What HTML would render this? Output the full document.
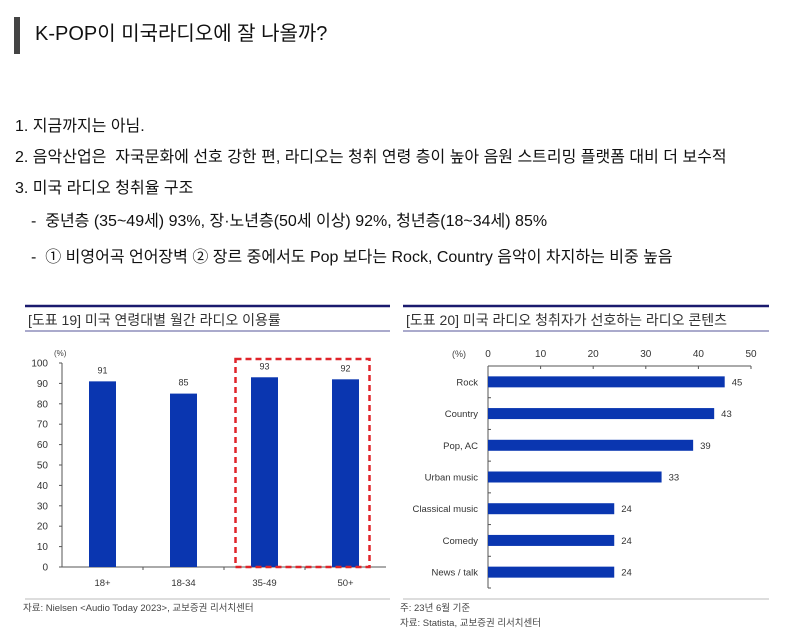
<!DOCTYPE html>
<html><head><meta charset="utf-8"><style>
body{margin:0;width:800px;height:641px;background:#fff;overflow:hidden;position:relative;font-family:"Liberation Sans","Noto Sans CJK KR",sans-serif;color:#111}
.t{position:absolute;white-space:nowrap;font-size:16px;line-height:20px}
svg{position:absolute;left:0;top:0}
</style></head><body>
<div style="position:absolute;left:14px;top:17px;width:6px;height:37px;background:#444"></div>
<div class="t" style="left:35px;top:22px;font-size:20px;line-height:24px">K-POP이 미국라디오에 잘 나올까?</div>
<div class="t" style="left:15px;top:117px">1. 지금까지는 아님.</div>
<div class="t" style="left:15px;top:148px">2. 음악산업은 &nbsp;자국문화에 선호 강한 편, 라디오는 청취 연령 층이 높아 음원 스트리밍 플랫폼 대비 더 보수적</div>
<div class="t" style="left:15px;top:179px">3. 미국 라디오 청취율 구조</div>
<div class="t" style="left:31px;top:212px">- &nbsp;중년층 (35~49세) 93%, 장·노년층(50세 이상) 92%, 청년층(18~34세) 85%</div>
<div class="t" style="left:31px;top:248px">- &nbsp;① 비영어곡 언어장벽 ② 장르 중에서도 Pop 보다는 Rock, Country 음악이 차지하는 비중 높음</div>
<svg id="c" width="800" height="641" font-family="Liberation Sans, Noto Sans CJK KR, sans-serif"></svg>
<script>
const ageCats=["18+","18-34","35-49","50+"];
const ageVals=[91,85,93,92];
const yTicks=[0,10,20,30,40,50,60,70,80,90,100];
const genreCats=["Rock","Country","Pop, AC","Urban music","Classical music","Comedy","News / talk"];
const genreVals=[45,43,39,33,24,24,24];
const xTicks=[0,10,20,30,40,50];
const S=document.getElementById('c');const NS="http://www.w3.org/2000/svg";
function el(t,a,txt,name){const e=document.createElementNS(NS,t);for(const k in a)e.setAttribute(k,a[k]);if(txt!==undefined)e.textContent=txt;


S.appendChild(e);return e;}
el('line',{x1:25,y1:306,x2:390,y2:306,stroke:'#1a1a6e','stroke-width':2.5},undefined,'chart19-top-rule');
el('line',{x1:25,y1:331,x2:390,y2:331,stroke:'#55559a','stroke-width':1},undefined,'chart19-title-rule');
el('text',{x:28,y:325,'font-size':14,fill:'#333'},'[도표 19] 미국 연령대별 월간 라디오 이용률','chart19-title');
el('line',{x1:403,y1:306,x2:769,y2:306,stroke:'#1a1a6e','stroke-width':2.5},undefined,'chart20-top-rule');
el('line',{x1:403,y1:331,x2:769,y2:331,stroke:'#55559a','stroke-width':1},undefined,'chart20-title-rule');
el('text',{x:406,y:325,'font-size':14,fill:'#333'},'[도표 20] 미국 라디오 청취자가 선호하는 라디오 콘텐츠','chart20-title');
const y0=567,yTop=363,axL=62,axR=386;
const yS=v=>y0-(v/100)*(y0-yTop);
el('line',{x1:axL,y1:yTop,x2:axL,y2:y0,stroke:'#555'},undefined,'y-axis');
el('line',{x1:axL,y1:y0,x2:axR,y2:y0,stroke:'#555'},undefined,'x-axis');
el('text',{x:axL-8,y:356,'font-size':8,fill:'#444'},'(%)','y-axis-unit');
yTicks.forEach(v=>{el('line',{x1:axL-3,y1:yS(v),x2:axL,y2:yS(v),stroke:'#555'},undefined,'y-tick');
el('text',{x:axL-14,y:yS(v)+3.5,'font-size':10,'text-anchor':'end',fill:'#333'},v,'y-tick-label');});
const bw=(axR-axL)/ageCats.length;
ageCats.forEach((c,i)=>{const cx=axL+bw*(i+0.5);
if(i>0)el('line',{x1:axL+bw*i,y1:y0,x2:axL+bw*i,y2:y0+3,stroke:'#555'},undefined,'x-tick');
el('rect',{x:cx-13.5,y:yS(ageVals[i]),width:27,height:y0-yS(ageVals[i]),fill:'#0a36b0'},undefined,'bar-'+c);
el('text',{x:cx,y:yS(ageVals[i])-8,'font-size':9,'text-anchor':'middle',fill:'#333'},ageVals[i],'bar-value');
el('text',{x:cx,y:586,'font-size':9.5,'text-anchor':'middle',fill:'#333'},c,'x-tick-label');});
el('rect',{x:axL+bw*2.5-29,y:359,width:134,height:y0-359,fill:'none',stroke:'#e0242a','stroke-width':2.5,'stroke-dasharray':'6,4'},undefined,'highlight-box');
el('line',{x1:25,y1:599,x2:390,y2:599,stroke:'#bbb'},undefined,'chart19-source-rule');
el('text',{x:23,y:611,'font-size':9.5,fill:'#444'},'자료: Nielsen <Audio Today 2023>, 교보증권 리서치센터','chart19-source');
const x0=488,x50=751,gTop=366,gBot=588;
const xS=v=>x0+(v/50)*(x50-x0);
el('line',{x1:x0,y1:gTop,x2:x50,y2:gTop,stroke:'#555'},undefined,'x-axis');
el('line',{x1:x0,y1:gTop,x2:x0,y2:gBot,stroke:'#555'},undefined,'y-axis');
el('text',{x:452,y:357,'font-size':9,fill:'#444'},'(%)','x-axis-unit');
xTicks.forEach(v=>{el('line',{x1:xS(v),y1:gTop,x2:xS(v),y2:gTop+3,stroke:'#555'},undefined,'x-tick');
el('text',{x:xS(v),y:357,'font-size':10,'text-anchor':'middle',fill:'#333'},v,'x-tick-label');});
const bh=(gBot-gTop)/genreCats.length;
genreCats.forEach((c,i)=>{const cy=gTop+bh*(i+0.5);
el('line',{x1:x0,y1:gTop+bh*(i+1),x2:x0+3,y2:gTop+bh*(i+1),stroke:'#555'},undefined,'y-tick');
el('rect',{x:x0,y:cy-5.5,width:xS(genreVals[i])-x0,height:11,fill:'#0a36b0'},undefined,'bar-'+c);
el('text',{x:xS(genreVals[i])+7,y:cy+3.5,'font-size':9.5,fill:'#333'},genreVals[i],'bar-value');
el('text',{x:478,y:cy+3.5,'font-size':9.5,'text-anchor':'end',fill:'#333'},c,'y-tick-label');});
el('line',{x1:403,y1:599,x2:769,y2:599,stroke:'#bbb'},undefined,'chart20-source-rule');
el('text',{x:400,y:611,'font-size':9.5,fill:'#444'},'주: 23년 6월 기준','chart20-note');
el('text',{x:400,y:626,'font-size':9.5,fill:'#444'},'자료: Statista, 교보증권 리서치센터','chart20-source');
</script>
</body></html>
